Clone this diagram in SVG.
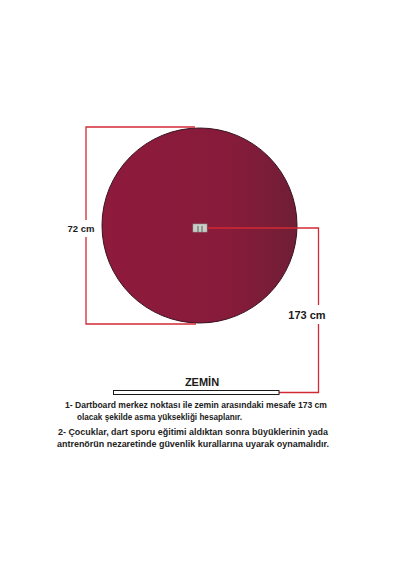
<svg xmlns="http://www.w3.org/2000/svg" width="400" height="570" viewBox="0 0 400 570">
<defs>
<linearGradient id="board" x1="0" y1="0" x2="1" y2="0">
<stop offset="0" stop-color="#8e1a3c"/>
<stop offset="0.65" stop-color="#871b3a"/>
<stop offset="1" stop-color="#701e37"/>
</linearGradient>
</defs>
<style>
.dim{fill:none;stroke:#d22a35;stroke-width:1.3}
.lbl{font-family:"Liberation Sans",Arial,sans-serif;font-weight:bold;fill:#1a1a1a}
.note{font-family:"Liberation Sans",Arial,sans-serif;font-weight:bold;fill:#222;font-size:9.6px}
</style>
<rect width="400" height="570" fill="#ffffff"/>
<g id="dartboard">
<circle cx="199.5" cy="225.5" r="97.5" fill="url(#board)" stroke="#3a1222" stroke-width="1"/>
<rect x="193" y="224" width="14" height="8" fill="#c9cfc8" stroke="#9aa29a" stroke-width="0.6"/>
<rect x="197" y="226" width="2" height="6" fill="#8f968f"/>
<rect x="201" y="226" width="2" height="6" fill="#8f968f"/>
</g>
<g id="connectors">
<path class="dim" d="M195,127 H86 V220 M86,237 V324 H196"/>
<path class="dim" d="M207,228 H318.5 V305 M318.5,324 V392.5 H279"/>
</g>
<g id="label-72">
<text class="lbl" x="81" y="232" font-size="9.5" text-anchor="middle">72 cm</text>
</g>
<g id="label-173">
<text class="lbl" x="307" y="319" font-size="11" text-anchor="middle">173 cm</text>
</g>
<g id="zemin">
<rect x="113.5" y="390.5" width="165.5" height="4" fill="#ffffff" stroke="#1a1a1a" stroke-width="1"/>
<text class="lbl" x="202" y="386" font-size="11" text-anchor="middle">ZEMİN</text>
</g>
<g id="notes">
<text class="note" x="65" y="408" textLength="262" lengthAdjust="spacingAndGlyphs">1- Dartboard merkez noktası ile zemin arasındaki mesafe 173 cm</text>
<text class="note" x="77" y="420" textLength="165" lengthAdjust="spacingAndGlyphs">olacak şekilde asma yüksekliği hesaplanır.</text>
<text class="note" x="58" y="435" textLength="270" lengthAdjust="spacingAndGlyphs">2- Çocuklar, dart sporu eğitimi aldıktan sonra büyüklerinin yada</text>
<text class="note" x="57" y="447" textLength="272" lengthAdjust="spacingAndGlyphs">antrenörün nezaretinde güvenlik kurallarına uyarak oynamalıdır.</text>
</g>
</svg>
